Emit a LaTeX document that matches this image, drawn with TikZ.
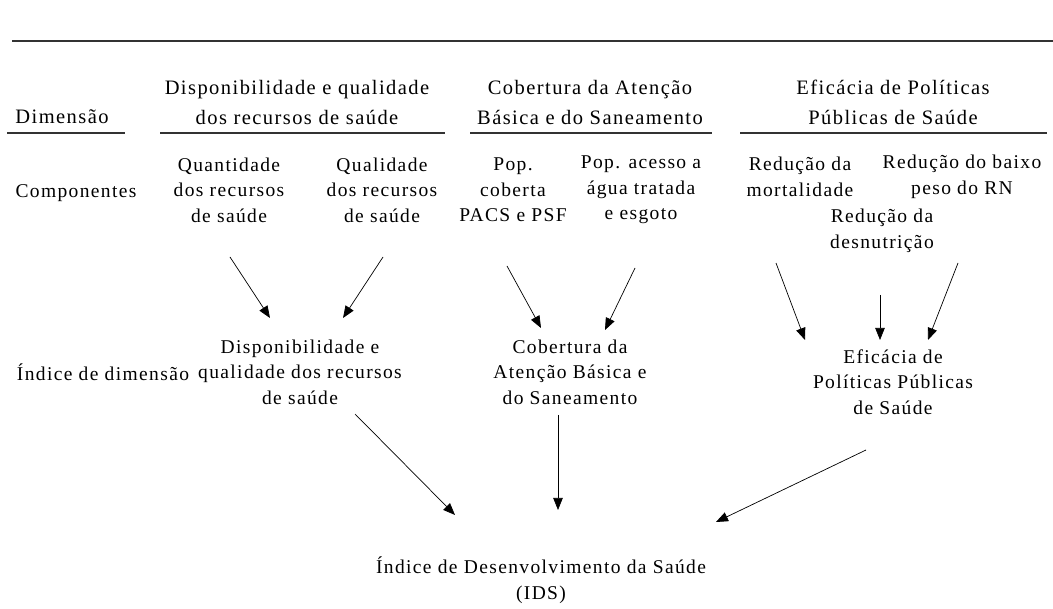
\documentclass[tikz,border=0pt]{standalone}
\usepackage{fontspec}
\setmainfont{Liberation Serif}
\newfontfamily\bodyfont[LetterSpace=7]{Liberation Serif}
\newfontfamily\headfont[LetterSpace=7]{Liberation Serif}
\usetikzlibrary{arrows.meta}
\begin{document}
\begin{tikzpicture}[x=1pt,y=-1pt,
  txt/.style={inner sep=0pt,align=center,font=\bodyfont\fontsize{19.5}{25.5}\selectfont},
  head/.style={inner sep=0pt,align=center,font=\headfont\fontsize{20.5}{30}\selectfont},
  rule/.style={line width=1.1pt,draw=black!80},
  arr/.style={line width=0.7pt,-{Triangle[length=12pt,width=9.5pt]}}]
\useasboundingbox (0,0) rectangle (1053,609);
\draw[rule] (12,41) -- (1053,41);
% header
\node[head] (hdim) at (62,117) {Dimensão};
\node[head] (h1) at (297,102) {Disponibilidade e qualidade\\dos recursos de saúde};
\node[head] (h2) at (590,102) {Cobertura da Atenção\\Básica e do Saneamento};
\node[head] (h3) at (893,102) {Eficácia de Políticas\\Públicas de Saúde};
\draw[rule] (7,133) -- (125,133);
\draw[rule] (160,133) -- (445,133);
\draw[rule] (470,133) -- (712,133);
\draw[rule] (740,133) -- (1047,133);
% components
\node[txt] (lcomp) at (76,193) {Componentes};
\node[txt] (quant) at (229,190) {Quantidade\\dos recursos\\de saúde};
\node[txt] (qual) at (382,190) {Qualidade\\dos recursos\\de saúde};
\node[txt] (popc) at (513,190) {Pop.\\coberta\\PACS e PSF};
\node[txt] (popa) at (641,190) {Pop. acesso a\\água tratada\\e esgoto};
\node[txt] (mort) at (800,177) {Redução da\\mortalidade};
\node[txt] (peso) at (962,177) {Redução do baixo\\peso do RN};
\node[txt] (desn) at (882,231) {Redução da\\desnutrição};
% index row
\node[txt] (lidx) at (103,372) {Índice de dimensão};
\node[txt] (disp) at (300,372) {Disponibilidade e\\qualidade dos recursos\\de saúde};
\node[txt] (cob) at (570,372) {Cobertura da\\Atenção Básica e\\do Saneamento};
\node[txt] (efic) at (893,382) {Eficácia de\\Políticas Públicas\\de Saúde};
\node[txt] (ids) at (541,580) {Índice de Desenvolvimento da Saúde\\(IDS)};
% arrows
\draw[arr] ([shift={(1,67)}]quant.center) -- ([shift={(-30,-54)}]disp.center);
\draw[arr] ([shift={(1,67)}]qual.center) -- ([shift={(43,-54)}]disp.center);
\draw[arr] ([shift={(-6,76)}]popc.center) -- ([shift={(-29,-44)}]cob.center);
\draw[arr] ([shift={(-6,78)}]popa.center) -- ([shift={(35,-42)}]cob.center);
\draw[arr] ([shift={(-24,86)}]mort.center) -- ([shift={(-88,-42)}]efic.center);
\draw[arr] ([shift={(-2,64)}]desn.center) -- ([shift={(-13,-42)}]efic.center);
\draw[arr] ([shift={(-4,86)}]peso.center) -- ([shift={(35,-42)}]efic.center);
\draw[arr] ([shift={(55,42)}]disp.center) -- ([shift={(-86,-65)}]ids.center);
\draw[arr] ([shift={(-12,43)}]cob.center) -- ([shift={(17,-70)}]ids.center);
\draw[arr] ([shift={(-27,68)}]efic.center) -- ([shift={(175,-58)}]ids.center);
\end{tikzpicture}
\end{document}
